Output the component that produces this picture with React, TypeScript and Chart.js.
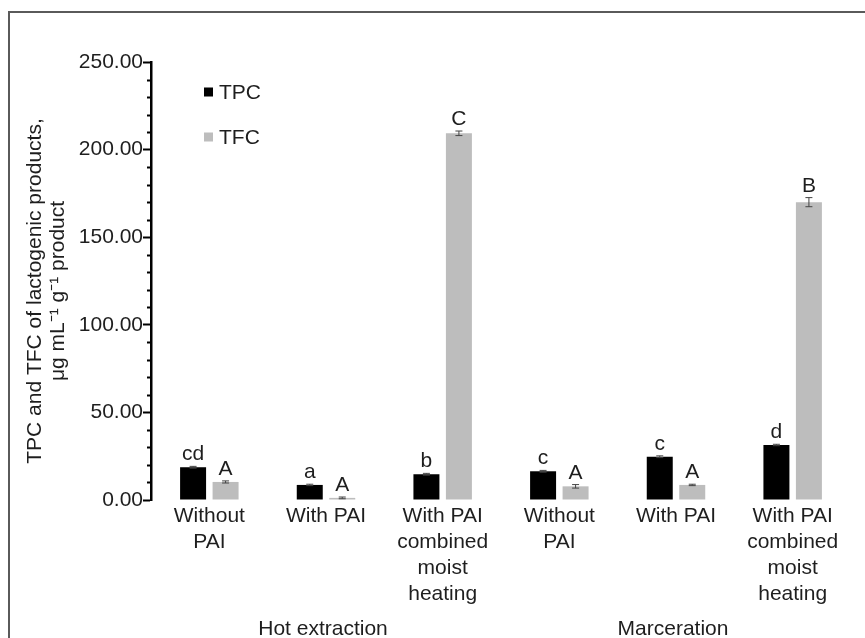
import React, { useEffect, useRef } from "react";
import { Chart, registerables } from "chart.js";

Chart.register(...registerables);

const categories: string[][] = [
  ["Without", "PAI"],
  ["With PAI"],
  ["With PAI", "combined", "moist", "heating"],
  ["Without", "PAI"],
  ["With PAI"],
  ["With PAI", "combined", "moist", "heating"],
];
const tpcValues = [18.7, 8.6, 14.7, 16.4, 24.7, 31.4];
const tfcValues = [10.3, 1.2, 209.3, 7.8, 8.6, 170.0];
const tpcErrors = [0.5, 0.4, 0.5, 0.5, 0.5, 0.4];
const tfcErrors = [0.6, 0.5, 1.3, 1.0, 0.4, 2.6];
const tpcLetters = ["cd", "a", "b", "c", "c", "d"];
const tfcLetters = ["A", "A", "C", "A", "A", "B"];
const groupNames = ["Hot extraction", "Marceration"];
const groupMembers = [
  [0, 1, 2],
  [3, 4, 5],
];
const yTitleLines = ["TPC and TFC of lactogenic products,", "\u03bcg mL\u207b\u00b9 g\u207b\u00b9 product"];
const yMin = 0;
const yMax = 250;
const yMajorStep = 50;
const yMinorStep = 10;

const FONT = "'Liberation Sans', Arial, Helvetica, sans-serif";
const FS = 21;
const TEXT = "#1e1e1e";

const overlayPlugin = {
  id: "overlay",
  afterDatasetsDraw(chart: any) {
    const ctx = chart.ctx as CanvasRenderingContext2D;
    const x = chart.scales.x;
    const y = chart.scales.y;
    ctx.save();
    // minor ticks
    ctx.strokeStyle = "#000";
    ctx.lineWidth = 2;
    for (let v = yMin; v <= yMax; v += yMinorStep) {
      if (v % yMajorStep === 0) continue;
      const py = Math.round(y.getPixelForValue(v)) + 0.5;
      ctx.beginPath();
      ctx.moveTo(y.right - 4, py);
      ctx.lineTo(y.right, py);
      ctx.stroke();
    }
    // error bars and letters
    const errs = [tpcErrors, tfcErrors];
    const letters = [tpcLetters, tfcLetters];
    chart.data.datasets.forEach((ds: any, di: number) => {
      const meta = chart.getDatasetMeta(di);
      meta.data.forEach((bar: any, i: number) => {
        const v = ds.data[i];
        const e = errs[di][i];
        const top = y.getPixelForValue(v + e);
        const bot = y.getPixelForValue(v - e);
        ctx.strokeStyle = "#444";
        ctx.lineWidth = 1;
        ctx.beginPath();
        ctx.moveTo(bar.x, top);
        ctx.lineTo(bar.x, bot);
        ctx.moveTo(bar.x - 3.5, top);
        ctx.lineTo(bar.x + 3.5, top);
        ctx.moveTo(bar.x - 3.5, bot);
        ctx.lineTo(bar.x + 3.5, bot);
        ctx.stroke();
        ctx.fillStyle = TEXT;
        ctx.font = `${FS}px ${FONT}`;
        ctx.textAlign = "center";
        ctx.textBaseline = "alphabetic";
        ctx.fillText(letters[di][i], bar.x, Math.min(top, y.getPixelForValue(v)) - 6);
      });
    });
    // group labels
    ctx.fillStyle = TEXT;
    ctx.font = `${FS}px ${FONT}`;
    ctx.textAlign = "center";
    ctx.textBaseline = "alphabetic";
    groupNames.forEach((name, gi) => {
      const idx = groupMembers[gi];
      const cx = idx.reduce((s, k) => s + x.getPixelForValue(k), 0) / idx.length;
      ctx.fillText(name, cx - 3, 635);
    });
    // y title
    ctx.save();
    ctx.translate(35, 291);
    ctx.rotate(-Math.PI / 2);
    ctx.textBaseline = "middle";
    ctx.fillText(yTitleLines[0], 0, 0);
    ctx.fillText(yTitleLines[1], 0, 23);
    ctx.restore();
    // legend
    const legendY = [92, 137];
    chart.data.datasets.forEach((ds: any, di: number) => {
      ctx.fillStyle = ds.backgroundColor;
      ctx.fillRect(204, legendY[di] - 4.5, 9, 9);
      ctx.fillStyle = TEXT;
      ctx.textAlign = "left";
      ctx.textBaseline = "middle";
      ctx.fillText(ds.label, 219, legendY[di] + 1);
    });
    ctx.restore();
  },
};

export default function App() {
  const ref = useRef<HTMLCanvasElement>(null);
  useEffect(() => {
    document.body.style.margin = "0";
    const chart = new Chart(ref.current!, {
      type: "bar",
      data: {
        labels: categories,
        datasets: [
          { label: "TPC", data: tpcValues, backgroundColor: "#000000" },
          { label: "TFC", data: tfcValues, backgroundColor: "#bdbdbd" },
        ],
      },
      options: {
        animation: false,
        responsive: false,
        maintainAspectRatio: false,
        layout: { padding: { left: 0, right: 14, top: 62, bottom: 0 } },
        datasets: { bar: { categoryPercentage: 0.557, barPercentage: 0.8 } },
        plugins: { legend: { display: false }, tooltip: { enabled: false }, title: { display: false } },
        scales: {
          x: {
            grid: { display: false, drawTicks: false },
            border: { display: false },
            ticks: {
              color: TEXT,
              font: { family: FONT, size: FS, lineHeight: 1.24 },
              padding: 3,
              maxRotation: 0,
              autoSkip: false,
            },
            afterFit: (s: any) => {
              s.height = 138;
            },
          },
          y: {
            min: yMin,
            max: yMax,
            grid: {
              display: true,
              drawOnChartArea: false,
              drawTicks: true,
              tickLength: 8,
              tickWidth: 2,
              tickColor: (c: any) => (c.tick && c.tick.value % yMajorStep === 0 ? "#000" : "rgba(0,0,0,0)"),
            },
            border: { display: true, color: "#000", width: 2.5 },
            ticks: {
              stepSize: yMinorStep,
              autoSkip: false,
              padding: 0,
              color: TEXT,
              font: { family: FONT, size: FS },
              callback: (v: any) => (Number(v) % yMajorStep === 0 ? Number(v).toFixed(2) : ""),
            },
            afterFit: (s: any) => {
              s.width = 151;
            },
          },
        },
      },
      plugins: [overlayPlugin],
    });
    return () => chart.destroy();
  }, []);
  return (
    <div style={{ position: "relative", width: 865, height: 638, overflow: "hidden", background: "#fff" }}>
      <div
        style={{
          position: "absolute",
          left: 8,
          top: 11,
          width: 900,
          height: 700,
          borderTop: "2px solid #5a5a5a",
          borderLeft: "2px solid #5a5a5a",
        }}
      />
      <canvas ref={ref} width={865} height={638} style={{ position: "absolute", left: 0, top: 0 }} />
    </div>
  );
}
